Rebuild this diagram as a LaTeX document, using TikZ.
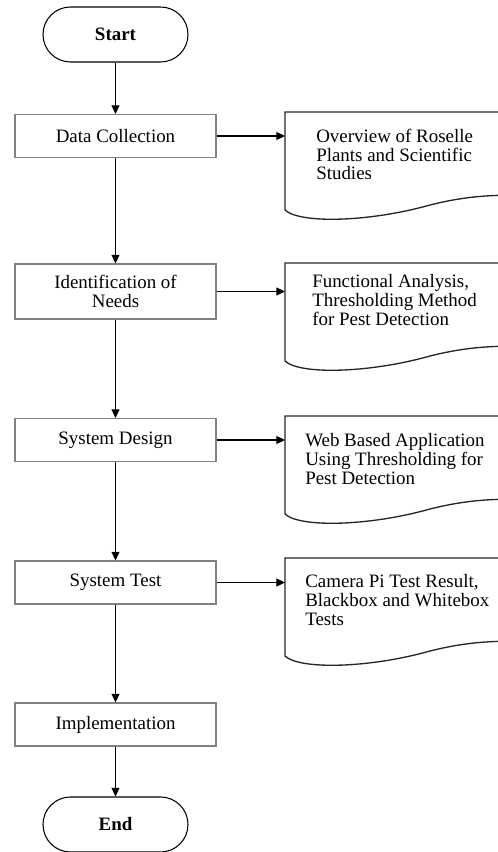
\documentclass[tikz,border=0pt]{standalone}
\usepackage{fontspec}
\setmainfont{Liberation Serif}
\usetikzlibrary{arrows.meta}

\begin{document}
\begin{tikzpicture}[x=0.75pt,y=-0.75pt,
    every node/.style={font=\fontsize{14.2}{14}\selectfont},
    term/.style={draw=black,line width=0.8pt,rounded corners=20.6pt,
      minimum width=108.75pt,minimum height=41.25pt,
      font=\fontsize{14.2}{14}\selectfont\bfseries},
    proc/.style={draw=black!50,line width=0.8pt,minimum width=150.75pt,
      minimum height=32.25pt,align=center},
    docarea/.style={anchor=north west,minimum width=195pt,
      minimum height=73.5pt,inner sep=0pt},
    docline/.style={black!85,line width=1pt},
    flow/.style={-{Triangle[length=6.5pt,width=6pt]},line width=0.8pt}]
  \useasboundingbox (0,0) rectangle (498,852);
  % main column
  \node[term] (start) at (115.5,34.5) {Start};
  \node[proc] (dc) at (115.5,136) {Data Collection};
  \node[proc,minimum height=41.25pt] (idn) at (115.5,291.5)
    {Identification of\\Needs};
  \node[proc] (sd) at (115.5,440) {System Design};
  \node[proc] (st) at (115.5,582.5) {System Test};
  \node[proc] (imp) at (115.5,724.5) {Implementation};
  \node[term] (end) at (115.5,824.5) {End};
  % output documents, cut by the right edge
  \foreach \d/\top/\dx/\dy/\txt in {
      ov/112/31/68/{Overview of Roselle\\Plants and Scientific\\Studies},
      fa/263/27/62/{Functional Analysis,\\Thresholding Method\\for Pest Detection},
      wb/416/20/68/{Web Based Application\\Using Thresholding for\\Pest Detection},
      cp/558/20/67/{Camera Pi Test Result,\\Blackbox and Whitebox\\Tests}}{
    \node[docarea] (\d) at (285,\top) {};
    \draw[docline,shift={(\d.north west)}] (0,98)
      .. controls (15,112) and (85,110) .. (145,93)
      .. controls (185,83) and (215,82) .. (260,84) -- (260,0) -- (0,0) -- cycle;
    \node[anchor=base west,align=left,inner sep=0pt] (\d txt)
      at ([shift={(\dx,\dy)}]\d.north west) {\txt};
  }
  \draw[flow] (start) -- (dc);
  \draw[flow] (dc) -- (idn);
  \draw[flow] (idn) -- (sd);
  \draw[flow] (sd) -- (st);
  \draw[flow] (st) -- (imp);
  \draw[flow] (imp) -- (end);
  \draw[flow] (dc.east) -- (dc.east -| ov.west);
  \draw[flow] (idn.east) -- (idn.east -| fa.west);
  \draw[flow] (sd.east) -- (sd.east -| wb.west);
  \draw[flow] (st.east) -- (st.east -| cp.west);
\end{tikzpicture}
\end{document}
